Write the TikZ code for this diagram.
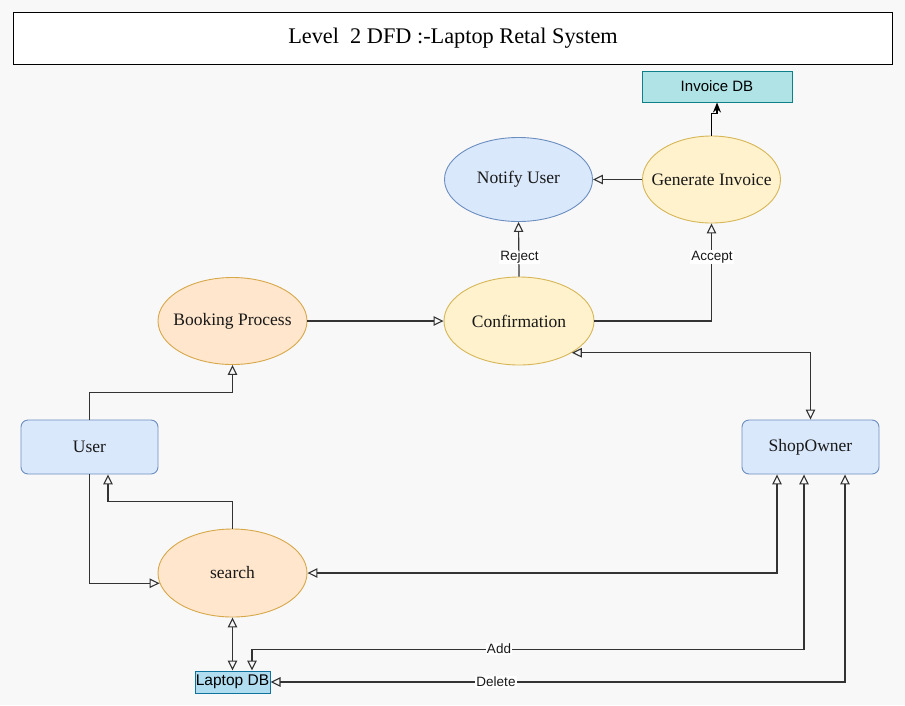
\documentclass[tikz,border=0pt]{standalone}
\usepackage{fontspec}
\setmainfont{Liberation Serif}
\newfontfamily\lsans{Liberation Sans}
\usetikzlibrary{arrows.meta,shapes.geometric,calc}
\definecolor{bg}{HTML}{F8F8F8}
\definecolor{bluefill}{HTML}{DAE8FC}
\definecolor{bluedraw}{HTML}{6C8EBF}
\definecolor{yelfill}{HTML}{FFF2CC}
\definecolor{yeldraw}{HTML}{D6B656}
\definecolor{orafill}{HTML}{FFE6CC}
\definecolor{oradraw}{HTML}{D7A84A}
\definecolor{tealfill}{HTML}{B0E3E6}
\definecolor{tealdraw}{HTML}{0E8088}
\definecolor{ldbfill}{HTML}{B1DDF0}
\definecolor{ldbdraw}{HTML}{10739E}
\definecolor{linec}{HTML}{333333}
\tikzset{
  proc/.style={ellipse, inner sep=0pt, minimum width=149pt, minimum height=87pt, line width=0.9pt, label={[font=\fontsize{17.5}{20}\selectfont, text=black!90]center:#1}},
  yproc/.style={proc=#1, fill=yelfill, draw=yeldraw},
  oproc/.style={proc=#1, fill=orafill, draw=oradraw},
  bproc/.style={proc=#1, fill=bluefill, draw=bluedraw},
  ent/.style={rectangle, rounded corners=7pt, fill=bluefill, draw=bluedraw, line width=0.9pt, minimum width=137pt, minimum height=54pt, inner sep=0pt, font=\fontsize{17.5}{20}\selectfont, text=black!90},
  tip/.tip={Triangle[open,length=10pt,width=9.5pt,line width=1.1pt]},
  arr/.style={draw=linec, line width=1.2pt, -tip},
  arrb/.style={draw=linec, line width=1.2pt, tip-tip},
  lbl/.style={fill=white, inner sep=1pt, font=\lsans\fontsize{13.5}{15}\selectfont, text=black!90},
}
\begin{document}
\begin{tikzpicture}[x=1pt,y=-1pt]
\useasboundingbox[fill=bg] (0,0) rectangle (905,705);
% title
\node[draw=black, fill=white, line width=1pt, minimum width=879pt, minimum height=52pt, inner sep=0pt, font=\fontsize{22.3}{25}\selectfont, anchor=north west] (title) at (13,12) {Level\ \ 2 DFD :-Laptop Retal System};
% nodes
\node[rectangle, fill=tealfill, draw=tealdraw, line width=1pt, minimum width=150pt, minimum height=31pt, inner sep=0pt, font=\lsans\fontsize{15}{17}\selectfont] (inv) at (717,86.5) {Invoice DB};
\node[bproc={Notify User}, minimum width=148pt, minimum height=84pt] (notify) at (518.5,179.5) {};
\node[yproc={Generate Invoice}, minimum width=138pt, minimum height=87pt] (gen) at (711.5,179.5) {};
\node[yproc={Confirmation}, minimum width=150pt, minimum height=88pt] (conf) at (519,321) {};
\node[oproc={Booking Process}] (book) at (232.5,321) {};
\node[oproc={search}, minimum height=88pt] (search) at (232.5,573) {};
\node[ent] (user) at (89.5,447) {User};
\node[ent] (shop) at (810.5,447) {ShopOwner};
\node[rectangle, fill=ldbfill, draw=ldbdraw, line width=1pt, minimum width=75pt, minimum height=22pt, inner sep=0pt, font=\lsans\fontsize{15.5}{17}\selectfont] (ldb) at (232.5,682) {Laptop DB};
% edges
\draw[draw=black, line width=1.2pt, -{Stealth[length=10pt,width=8pt]}] (gen.north) -- ++(0,-22) -| (inv.south);
\draw[arr] (gen.west) -- (notify.east);
\draw[arr] (conf.north) -- (notify.south);
\node[lbl] (rej) at (519.5,257) {Reject};
\draw[arr] (conf.east) -| (gen.south);
\node[lbl] (acc) at (712,257) {Accept};
\draw[arr] (book.east) -- (conf.west);
\draw[arr] (user.north) -- ++(0,-27) -| (book.south);
\draw[arrb] (conf.-31) -- (conf.-31 -| shop.north) -- (shop.north);
\draw[arr] (user.south) |- (search.188.5);
\draw[arr] (search.north) -- ++(0,-27) -| ([xshift=18.5pt]user.south);
\draw[arrb] ([xshift=-33.5pt]shop.south) |- (search.east);
\draw[arrb] (search.south) -- (ldb.north);
\draw[arrb] ([xshift=-6.5pt]shop.south) -- ++(0,175) -| ([xshift=19.5pt]ldb.north);
\node[lbl] (add) at (499,649) {Add};
\draw[arrb] ([xshift=34.5pt]shop.south) |- (ldb.east);
\node[lbl] (del) at (496,682) {Delete};
\end{tikzpicture}
\end{document}
